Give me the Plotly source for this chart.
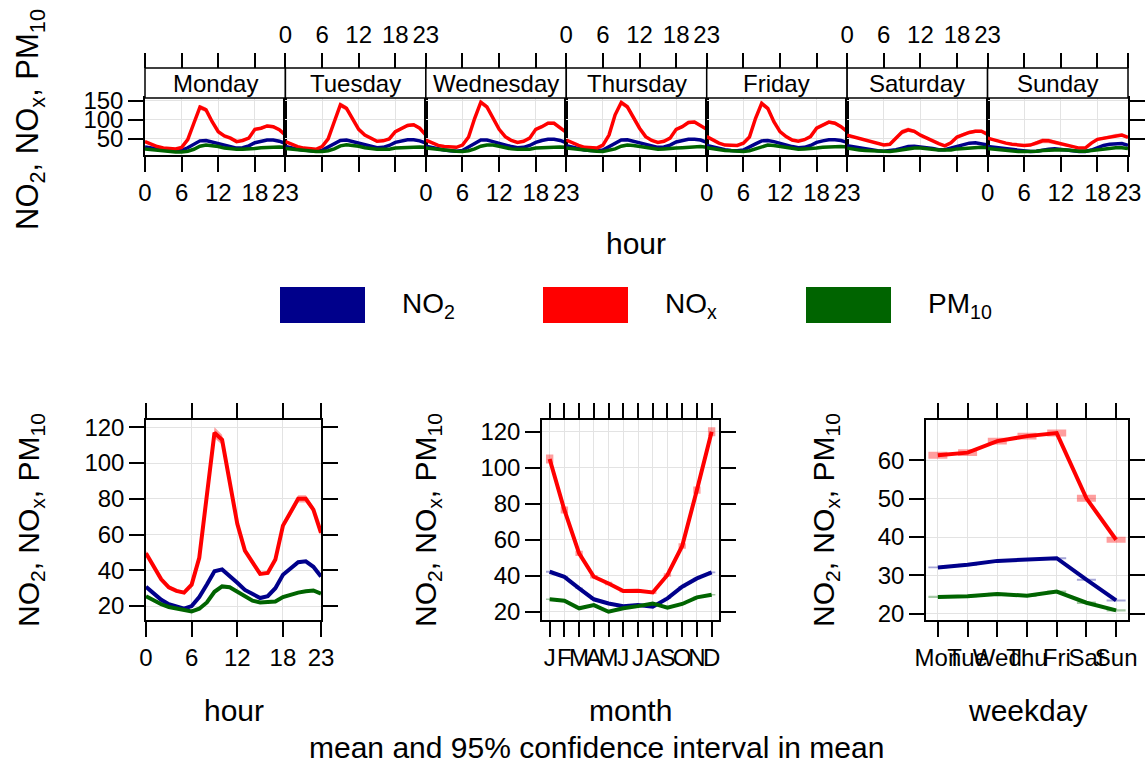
import plotly.graph_objects as go

W, H = 1146, 765
def px(x): return x / W
def py(y): return 1 - y / H

FONT = "Liberation Sans, Arial, Helvetica, sans-serif"
C_NO2, C_NOX, C_PM = "#00008B", "#FF0000", "#006400"
F_NO2, F_NOX, F_PM = "rgba(0,0,139,0.35)", "rgba(255,0,0,0.38)", "rgba(0,100,0,0.35)"

# ---------------- data ----------------
hours = list(range(24))
days = ["Monday", "Tuesday", "Wednesday", "Thursday", "Friday", "Saturday", "Sunday"]
hour_ticks = [0, 6, 12, 18, 23]

# day-hour (top panels)
nox_mon = [43,36,30,26.5,25,24,28,48,91,133,126,95,69,58,52,43,46,52,75,78,84,82,74,60]
nox_tue = [43,36,30,26,24,23,30,50,95,139,130,101,75,60,52,44,45,50,69,78,85,87,78,60]
nox_wed = [47,39,33,30,28,28,34,55,104,146,134,104,75,56,46,41,44,52,75,82,91,91,80,67]
nox_thu = [47,39,33,28,26,26,34,60,113,145,134,104,78,56,46,41,44,52,75,82,93,94,84,75]
nox_fri = [56,47,39,34,33,33,39,55,104,143,130,95,69,56,47,44,48,56,78,87,94,91,82,69]
nox_sat = [60,56,52,47,43,39,34,36,52,68,74,70,60,52,45,38,32,40,55,62,67,70,70,62]
nox_sun = [52,47,43,39,36,34,33,34,39,45,45,41,36,32,28,26,26,39,49,52,56,59,60,54]

no2_mon = [29,26,23,20,19,18,20,27,36,45,46,42,37,32,29,26,27,32,40,44,47,47,44,38]
no2_tue = [30,26,23,21,19,18,20,28,37,46,47,43,38,33,30,27,28,33,41,45,48,48,45,39]
no2_wed = [31,27,24,21,19,18,20,28,38,47,47,43,38,33,30,27,28,33,41,46,49,49,46,40]
no2_thu = [32,28,24,21,20,19,21,29,38,47,48,44,39,34,31,28,29,34,42,46,49,49,47,41]
no2_fri = [33,29,25,22,20,19,21,28,37,45,46,43,38,33,30,27,28,33,41,45,48,48,46,41]
no2_sat = [32,29,26,23,21,19,18,19,22,26,30,31,30,27,25,22,22,26,32,36,39,40,38,34]
no2_sun = [30,28,25,23,21,19,18,17,18,21,23,24,23,21,19,17,17,21,28,33,36,38,38,33]

pm10_mon = [24,22,20,18,17,16,16,18,23,31,34,33,30,26,24,23,23,23,25,27,28,29,29,28]
pm10_tue = [25,23,21,19,18,17,17,19,24,32,35,34,31,27,24,23,23,23,26,27,28,29,29,28]
pm10_wed = [26,24,22,20,19,18,17,19,24,31,34,34,31,27,24,23,23,23,26,27,28,29,29,28]
pm10_thu = [26,24,22,20,19,18,17,20,24,31,34,33,30,27,24,23,24,24,26,27,28,29,30,28]
pm10_fri = [27,24,22,20,19,18,17,19,24,31,34,33,30,27,24,23,24,24,26,28,29,30,30,29]
pm10_sat = [26,23,21,20,19,18,17,17,19,22,25,26,26,24,23,21,21,21,24,25,27,27,28,27]
pm10_sun = [25,23,21,19,18,17,17,17,18,20,21,22,22,21,19,18,18,20,22,25,26,27,27,25]

# hour (bottom-left)
nox_hour = [49.5,42,35,30.5,28.5,27.5,32,47,82,117,113,88,66,51,44,38,38.5,46,65,72,80,80,74,61]
no2_hour = [30.8,27,23.5,21,19.5,18.5,20,25,32,39.5,40.5,37,33,29,27,24.5,25.5,30,37.5,41,44.5,45,42,36.5]
pm10_hour = [25.5,23,21,19.5,18.5,17.5,17,18.5,22,28,31,30.5,28,25,23,22,22.5,22.5,25,26.5,27.5,28.3,28.7,27]
nox_hour_ci = [1.5,1.2,1,1,0.9,0.9,1,1.5,2.5,3,2.8,2.2,1.6,1.2,1,0.9,0.9,1.1,1.6,1.8,2,2,1.8,1.5]
no2_hour_ci = [0.4]*24
pm10_hour_ci = [0.4]*24

# month (bottom-middle)
months = list(range(1, 13))
month_labels = ["J","F","M","A","M","J","J","A","S","O","N","D"]
nox_month = [104.8,76.5,52.4,39.4,35.7,31.5,31.7,30.7,40.4,56.5,87.6,120]
no2_month = [42.2,39.4,33,26.9,24.6,23.1,23.7,22.8,27.4,33.9,38.5,41.9]
pm10_month = [26.9,26.1,21.9,23.7,20,21.9,23.1,24.6,22.2,24.3,28,29.4]
nox_month_ci = [2.5,2,1.5,1,1,0.8,0.8,0.8,1,1.5,2,2.5]
no2_month_ci = [0.5,0.4,0.4,0.3,0.3,0.3,0.3,0.3,0.3,0.4,0.4,0.5]
pm10_month_ci = [0.4,0.4,0.3,0.3,0.3,0.3,0.3,0.3,0.3,0.3,0.4,0.4]

# weekday (bottom-right)
wd = list(range(1, 8))
wd_labels = ["Mon","Tue","Wed","Thu","Fri","Sat","Sun"]
nox_wd = [61.3,62,65,66.3,67.1,50.1,39.3]
no2_wd = [32.1,32.8,33.8,34.1,34.5,28.9,23.5]
pm10_wd = [24.4,24.6,25.2,24.7,25.8,22.9,20.9]
nox_wd_ci = [0.9,0.9,0.9,0.9,0.9,0.9,0.8]
no2_wd_ci = [0.25]*7
pm10_wd_ci = [0.3]*7

nox_days = [nox_mon, nox_tue, nox_wed, nox_thu, nox_fri, nox_sat, nox_sun]
no2_days = [no2_mon, no2_tue, no2_wed, no2_thu, no2_fri, no2_sat, no2_sun]
pm10_days = [pm10_mon, pm10_tue, pm10_wed, pm10_thu, pm10_fri, pm10_sat, pm10_sun]

# ---------------- figure ----------------
fig = go.Figure()

def ribbon(x, y, ci, fill, xa, ya):
    up = [v + c for v, c in zip(y, ci)]
    lo = [v - c for v, c in zip(y, ci)]
    fig.add_trace(go.Scatter(x=list(x) + list(x)[::-1], y=up + lo[::-1], fill="toself",
                             fillcolor=fill, line=dict(width=0), mode="lines",
                             xaxis=xa, yaxis=ya, hoverinfo="skip", showlegend=False))

def boxes(x, y, ci, hw, fill, xa, ya):
    xs, ys = [], []
    for xv, yv, c in zip(x, y, ci):
        xs += [xv - hw, xv + hw, xv + hw, xv - hw, xv - hw, None]
        ys += [yv - c, yv - c, yv + c, yv + c, yv - c, None]
    fig.add_trace(go.Scatter(x=xs, y=ys, fill="toself", fillcolor=fill, line=dict(width=0),
                             mode="lines", xaxis=xa, yaxis=ya, hoverinfo="skip", showlegend=False))

def line(x, y, color, xa, ya, w=4):
    fig.add_trace(go.Scatter(x=x, y=y, mode="lines", line=dict(color=color, width=w),
                             xaxis=xa, yaxis=ya, hoverinfo="skip", showlegend=False))

# top panels
for i in range(7):
    xa = "x" if i == 0 else f"x{i+1}"
    ya = "y" if i == 0 else f"y{i+1}"
    ribbon(hours, no2_days[i], [c * 2.0 for c in no2_hour_ci], F_NO2, xa, ya)
    ribbon(hours, nox_days[i], [c * 2.2 for c in nox_hour_ci], F_NOX, xa, ya)
    ribbon(hours, pm10_days[i], [c * 2.0 for c in pm10_hour_ci], F_PM, xa, ya)
    line(hours, no2_days[i], C_NO2, xa, ya, 3.5)
    line(hours, nox_days[i], C_NOX, xa, ya, 3.5)
    line(hours, pm10_days[i], C_PM, xa, ya, 3.5)

# bottom: hour
ribbon(hours, no2_hour, no2_hour_ci, F_NO2, "x8", "y8")
ribbon(hours, nox_hour, nox_hour_ci, F_NOX, "x8", "y8")
ribbon(hours, pm10_hour, pm10_hour_ci, F_PM, "x8", "y8")
line(hours, no2_hour, C_NO2, "x8", "y8")
line(hours, nox_hour, C_NOX, "x8", "y8")
line(hours, pm10_hour, C_PM, "x8", "y8")

# bottom: month
boxes(months, no2_month, no2_month_ci, 0.25, F_NO2, "x9", "y9")
boxes(months, nox_month, nox_month_ci, 0.25, F_NOX, "x9", "y9")
boxes(months, pm10_month, pm10_month_ci, 0.25, F_PM, "x9", "y9")
line(months, no2_month, C_NO2, "x9", "y9")
line(months, nox_month, C_NOX, "x9", "y9")
line(months, pm10_month, C_PM, "x9", "y9")

# bottom: weekday
boxes(wd, no2_wd, no2_wd_ci, 0.32, F_NO2, "x10", "y10")
boxes(wd, nox_wd, nox_wd_ci, 0.32, F_NOX, "x10", "y10")
boxes(wd, pm10_wd, pm10_wd_ci, 0.32, F_PM, "x10", "y10")
line(wd, no2_wd, C_NO2, "x10", "y10")
line(wd, nox_wd, C_NOX, "x10", "y10")
line(wd, pm10_wd, C_PM, "x10", "y10")

# dummy traces for top tick overlay axes
for i in range(7):
    fig.add_trace(go.Scatter(x=[0, 23], y=[None, None], mode="lines", xaxis=f"x{11+i}",
                             yaxis="y" if i == 0 else f"y{i+1}", hoverinfo="skip", showlegend=False))

TICKFONT = dict(size=24, color="black", family=FONT)
common = dict(showline=True, linecolor="black", linewidth=1.5, ticks="outside", ticklen=15,
              tickwidth=1.5, tickcolor="black", showgrid=True, gridcolor="#E3E3E3",
              gridwidth=1, zeroline=False, tickfont=TICKFONT, automargin=False, tickangle=0)

layout = {}
edges = [145 + i * (1128 - 145) / 7 for i in range(8)]
for i in range(7):
    xn = "xaxis" if i == 0 else f"xaxis{i+1}"
    yn = "yaxis" if i == 0 else f"yaxis{i+1}"
    dom = [px(edges[i]), px(edges[i + 1])]
    layout[xn] = dict(common, domain=dom, range=[0, 23], anchor="y" if i == 0 else f"y{i+1}",
                      tickvals=hour_ticks, ticktext=[str(t) for t in hour_ticks],
                      showticklabels=(i % 2 == 0), mirror=True)
    layout[yn] = dict(common, domain=[py(155), py(98)], range=[8, 157],
                      anchor="x" if i == 0 else f"x{i+1}", tickvals=[50, 100, 150],
                      showticklabels=(i == 0), ticks="outside" if i in (0, 6) else "",
                      side="right" if i == 6 else "left", mirror=True)
    layout[f"xaxis{11+i}"] = dict(overlaying="x" if i == 0 else f"x{i+1}", anchor="free",
                                  position=py(68), side="top", domain=dom, range=[0, 23],
                                  tickvals=hour_ticks, ticktext=[str(t) for t in hour_ticks],
                                  showticklabels=(i % 2 == 1), ticks="outside", ticklen=15,
                                  tickwidth=1.5, tickcolor="black", showline=False,
                                  showgrid=False, zeroline=False, tickfont=TICKFONT,
                                  automargin=False, tickangle=0)

layout["xaxis8"] = dict(common, domain=[px(146), px(321)], range=[0, 23], anchor="y8",
                        tickvals=hour_ticks, ticktext=[str(t) for t in hour_ticks], mirror="ticks")
layout["yaxis8"] = dict(common, domain=[py(620), py(420)], range=[12.2, 124.1], anchor="x8",
                        tickvals=[20, 40, 60, 80, 100, 120], mirror="ticks")
layout["xaxis9"] = dict(common, domain=[px(542), px(719)], range=[0.48, 12.5], anchor="y9",
                        tickvals=months, ticktext=month_labels, mirror="ticks")
layout["yaxis9"] = dict(common, domain=[py(620), py(420)], range=[15.4, 126.5], anchor="x9",
                        tickvals=[20, 40, 60, 80, 100, 120], mirror="ticks")
layout["xaxis10"] = dict(common, domain=[px(926), px(1128)], range=[0.6, 7.4], anchor="y10",
                         tickvals=wd, ticktext=wd_labels, mirror="ticks")
layout["yaxis10"] = dict(common, domain=[py(620), py(420)], range=[18.4, 70.5], anchor="x10",
                         tickvals=[20, 30, 40, 50, 60], mirror="ticks")

shapes, annos = [], []
# strips
for i in range(7):
    shapes.append(dict(type="rect", xref="paper", yref="paper", x0=px(edges[i]), x1=px(edges[i + 1]),
                       y0=py(98), y1=py(68), line=dict(color="black", width=1.5), fillcolor="white"))
    annos.append(dict(text=days[i], x=px((edges[i] + edges[i + 1]) / 2), y=py(83), xref="paper",
                      yref="paper", showarrow=False, font=dict(size=24, color="black", family=FONT),
                      xanchor="center", yanchor="middle"))

ylab = "NO<sub>2</sub>, NO<sub>x</sub>, PM<sub>10</sub>"
TITLEFONT = dict(size=30, color="black", family=FONT)
def ann(text, x, y, angle=0, font=TITLEFONT, xanchor="center"):
    annos.append(dict(text=text, x=px(x), y=py(y), xref="paper", yref="paper", showarrow=False,
                      textangle=angle, font=font, xanchor=xanchor, yanchor="middle"))

ann(ylab, 30, 120, -90, font=dict(size=31, color="black", family=FONT))
ann("hour", 636, 243)
ann(ylab, 30, 520, -90)
ann(ylab, 427, 520, -90)
ann(ylab, 825, 520, -90)
ann("hour", 234, 710)
ann("month", 630, 710)
ann("weekday", 1027, 710)
ann("mean and 95% confidence interval in mean", 596, 747)

# legend
leg_names = ["NO<sub>2</sub>", "NO<sub>x</sub>", "PM<sub>10</sub>"]
leg_cols = [C_NO2, C_NOX, C_PM]
leg_x = [280, 543, 806]
for name, col, lx in zip(leg_names, leg_cols, leg_x):
    shapes.append(dict(type="rect", xref="paper", yref="paper", x0=px(lx), x1=px(lx + 85),
                       y0=py(323), y1=py(287), line=dict(width=0), fillcolor=col))
    ann(name, lx + 120, 305, font=dict(size=28, color="black", family=FONT), xanchor="left")

fig.update_layout(**layout)
fig.update_layout(width=W, height=H, margin=dict(l=0, r=0, t=0, b=0), autosize=False,
                  template="none", paper_bgcolor="white", plot_bgcolor="white",
                  font=dict(family=FONT, color="black"), shapes=shapes, annotations=annos,
                  showlegend=False)

fig.write_html("out.html", config={"displayModeBar": False},
               post_script="document.body.style.margin='0px';document.body.style.padding='0px';"
                           "document.documentElement.style.overflow='hidden';")
